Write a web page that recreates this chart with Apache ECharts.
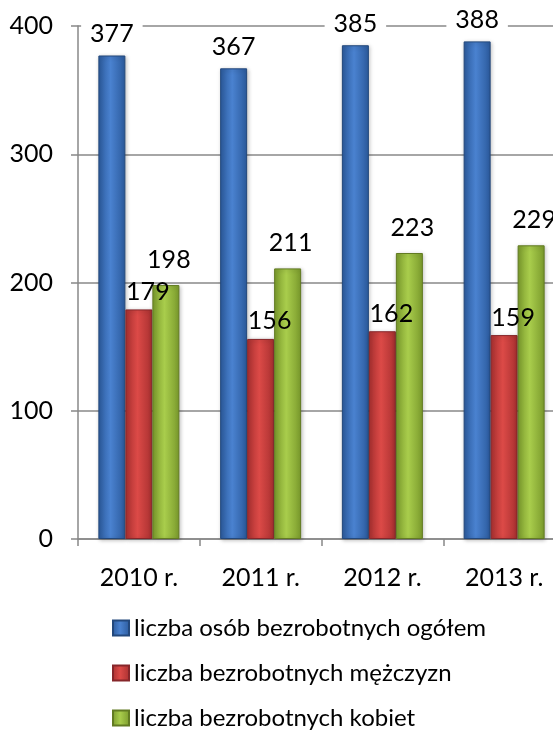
<!DOCTYPE html>
<html>
<head>
<meta charset="utf-8">
<script src="https://cdn.jsdelivr.net/npm/echarts@6/dist/echarts.min.js"></script>
<style>
  html, body { margin: 0; padding: 0; background: #fff; }
  #chart { width: 553px; height: 731px; }
</style>
</head>
<body>
<div id="chart"></div>
<script>
// lata i wartości
const years = ['2010 r.', '2011 r.', '2012 r.', '2013 r.']
const ogolem = [377, 367, 385, 388]
const mezczyzni = [179, 156, 162, 159]
const kobiety = [198, 211, 223, 229]
const seriesNames = [
  'liczba osób bezrobotnych ogółem',
  'liczba bezrobotnych mężczyzn',
  'liczba bezrobotnych kobiet'
]

const FONT = 'Lato, "Liberation Sans", sans-serif'

function grad (edge, mid) {
  return new echarts.graphic.LinearGradient(0, 0, 1, 0, [
    { offset: 0, color: edge },
    { offset: 0.45, color: mid },
    { offset: 1, color: edge }
  ])
}

function barSeries (name, data, edge, mid, border, dist, dx, bg) {
  return {
    name: name,
    type: 'bar',
    barWidth: 27,
    barGap: '0%',
    data: data,
    itemStyle: {
      color: grad(edge, mid),
      borderColor: border,
      borderWidth: 1,
      shadowColor: 'rgba(0,0,0,0.25)',
      shadowBlur: 4,
      shadowOffsetX: 1,
      shadowOffsetY: 1
    },
    label: {
      show: true,
      position: 'top',
      distance: dist,
      offset: [dx, 0],
      color: '#000',
      fontSize: 25,
      fontFamily: FONT,
      backgroundColor: bg,
      padding: [0, 9]
    }
  }
}

// jedna legenda na wiersz
function legendRow (name, top) {
  return {
    orient: 'vertical',
    left: 112,
    top: top,
    padding: 0,
    itemWidth: 16,
    itemHeight: 15,
    icon: 'rect',
    textStyle: { fontSize: 24, color: '#000', fontFamily: FONT },
    data: [name]
  }
}

let myChart = echarts.init(document.getElementById('chart'))
myChart.setOption({
  animation: false,
  textStyle: { fontFamily: FONT },
  grid: {
    left: 78,
    width: 487,
    top: 26,
    bottom: 192,
    outerBoundsMode: 'none'
  },
  legend: [
    legendRow(seriesNames[0], 616),
    legendRow(seriesNames[1], 661),
    legendRow(seriesNames[2], 706)
  ],
  xAxis: {
    type: 'category',
    data: years,
    axisLine: { lineStyle: { color: '#888', width: 1.5 } },
    axisTick: { show: true, length: 7, lineStyle: { color: '#888', width: 1.5 } },
    axisLabel: { fontSize: 25, color: '#000', margin: 26, fontFamily: FONT }
  },
  yAxis: {
    type: 'value',
    min: 0,
    max: 400,
    interval: 100,
    axisLine: { show: true, lineStyle: { color: '#888', width: 1.5 } },
    axisTick: { show: true, length: 7, lineStyle: { color: '#888', width: 1.5 } },
    splitLine: { lineStyle: { color: '#888', width: 1.5 } },
    axisLabel: { fontSize: 25, color: '#000', margin: 25, fontFamily: FONT }
  },
  series: [
    barSeries(seriesNames[0], ogolem, '#2b5a9c', '#4a82d0', '#23487c', 9, 0, '#fff'),
    barSeries(seriesNames[1], mezczyzni, '#a83030', '#dc4a47', '#86262a', 5, 9, 'transparent'),
    barSeries(seriesNames[2], kobiety, '#7a9a2c', '#a9cd4c', '#627b22', 13, 3, 'transparent')
  ]
})
</script>
</body>
</html>
